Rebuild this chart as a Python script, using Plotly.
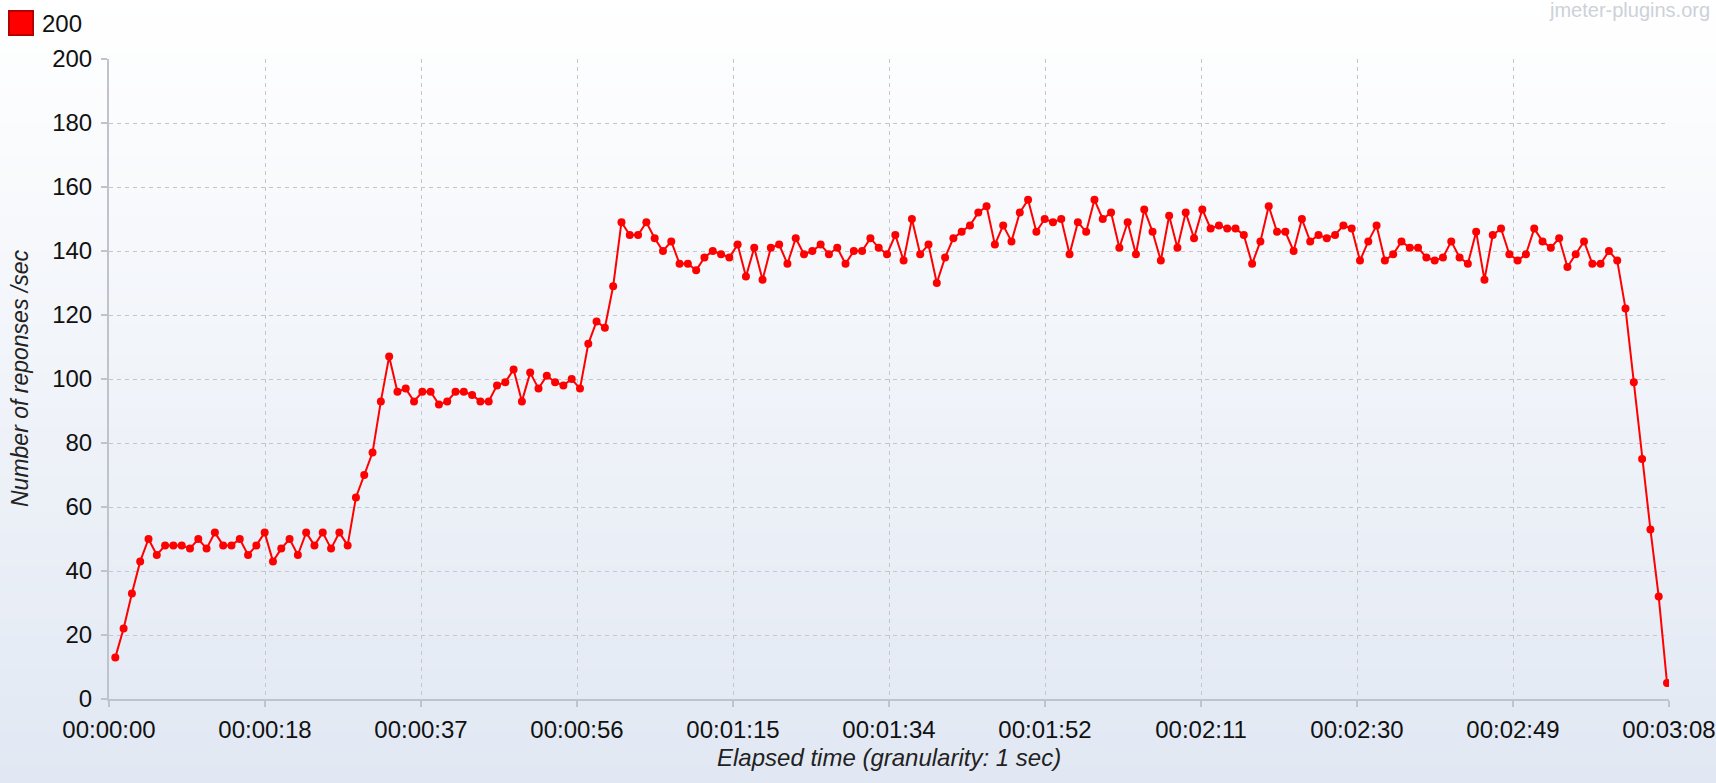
import plotly.graph_objects as go

# ---------------- data ----------------
SERIES_NAME = "200"
START_OFFSET_SEC = 0.76  # first sample offset within the elapsed-time axis (seconds)
RESPONSES_PER_SEC = [
    13, 22, 33, 43, 50, 45, 48, 48, 48, 47,
    50, 47, 52, 48, 48, 50, 45, 48, 52, 43,
    47, 50, 45, 52, 48, 52, 47, 52, 48, 63,
    70, 77, 93, 107, 96, 97, 93, 96, 96, 92,
    93, 96, 96, 95, 93, 93, 98, 99, 103, 93,
    102, 97, 101, 99, 98, 100, 97, 111, 118, 116,
    129, 149, 145, 145, 149, 144, 140, 143, 136, 136,
    134, 138, 140, 139, 138, 142, 132, 141, 131, 141,
    142, 136, 144, 139, 140, 142, 139, 141, 136, 140,
    140, 144, 141, 139, 145, 137, 150, 139, 142, 130,
    138, 144, 146, 148, 152, 154, 142, 148, 143, 152,
    156, 146, 150, 149, 150, 139, 149, 146, 156, 150,
    152, 141, 149, 139, 153, 146, 137, 151, 141, 152,
    144, 153, 147, 148, 147, 147, 145, 136, 143, 154,
    146, 146, 140, 150, 143, 145, 144, 145, 148, 147,
    137, 143, 148, 137, 139, 143, 141, 141, 138, 137,
    138, 143, 138, 136, 146, 131, 145, 147, 139, 137,
    139, 147, 143, 141, 144, 135, 139, 143, 136, 136,
    140, 137, 122, 99, 75, 53, 32, 5,
]
ELAPSED_SEC = [i + START_OFFSET_SEC for i in range(len(RESPONSES_PER_SEC))]

X_MAX_SEC = 188
X_TICK_LABELS = ["00:00:00", "00:00:18", "00:00:37", "00:00:56", "00:01:15",
                 "00:01:34", "00:01:52", "00:02:11", "00:02:30", "00:02:49", "00:03:08"]
Y_TICKS = [0, 20, 40, 60, 80, 100, 120, 140, 160, 180, 200]
X_TITLE = "Elapsed time (granularity: 1 sec)"
Y_TITLE = "Number of reponses /sec"
WATERMARK = "jmeter-plugins.org"

# ---------------- layout geometry ----------------
W, H = 1716, 783
ML, MR, MT, MB = 109, 47, 59, 84
PW, PH = W - ML - MR, H - MT - MB
FONT = "Liberation Sans, Arial, sans-serif"
GRID = "#c3c6cc"
AXIS = "#bfc4cc"
TICK_SIZE = 24

x_tickvals = [X_MAX_SEC * i / (len(X_TICK_LABELS) - 1) for i in range(len(X_TICK_LABELS))]


def px_to_paper_x(px):
    return (px - ML) / PW


def px_to_paper_y(py):
    return (H - MB - py) / PH


fig = go.Figure()
fig.add_trace(go.Scatter(
    x=ELAPSED_SEC, y=RESPONSES_PER_SEC, name=SERIES_NAME,
    mode="lines+markers",
    line=dict(color="#ff0000", width=2),
    marker=dict(color="#ff0000", size=8, line=dict(width=0)),
    showlegend=False,
))

# background vertical gradient (white -> light blue-grey)
shapes = []
top_c = (255, 255, 255)
bot_c = (225, 232, 243)
N = 90
for i in range(N):
    f = (i + 0.5) / N
    c = tuple(round(top_c[k] + (bot_c[k] - top_c[k]) * f) for k in range(3))
    y0 = H * i / N
    y1 = H * (i + 1) / N + 1
    shapes.append(dict(
        type="rect", xref="paper", yref="paper", layer="below",
        x0=px_to_paper_x(-2), x1=px_to_paper_x(W + 2),
        y0=px_to_paper_y(y1), y1=px_to_paper_y(y0),
        fillcolor="rgb(%d,%d,%d)" % c, line=dict(width=0),
    ))

# legend swatch
shapes.append(dict(
    type="rect", xref="paper", yref="paper", layer="above",
    x0=px_to_paper_x(9), x1=px_to_paper_x(33),
    y0=px_to_paper_y(35), y1=px_to_paper_y(11),
    fillcolor="#ff0000", line=dict(color="#b40000", width=2),
))

annotations = [
    dict(text=SERIES_NAME, xref="paper", yref="paper",
         x=px_to_paper_x(40), y=px_to_paper_y(23), xanchor="left", yanchor="middle",
         showarrow=False, font=dict(family=FONT, size=TICK_SIZE, color="#111111")),
    dict(text=WATERMARK, xref="paper", yref="paper",
         x=px_to_paper_x(1712), y=px_to_paper_y(10), xanchor="right", yanchor="middle",
         showarrow=False, font=dict(family=FONT, size=20, color="#cdd1d8")),
    dict(text=X_TITLE, xref="paper", yref="paper",
         x=0.5, y=px_to_paper_y(757), xanchor="center", yanchor="middle",
         showarrow=False, font=dict(family=FONT, size=24, color="#222222", style="italic")),
    dict(text=Y_TITLE, xref="paper", yref="paper", textangle=-90,
         x=px_to_paper_x(20), y=0.5, xanchor="center", yanchor="middle",
         showarrow=False, font=dict(family=FONT, size=23, color="#222222", style="italic")),
]

fig.update_layout(
    width=W, height=H,
    margin=dict(l=ML, r=MR, t=MT, b=MB, autoexpand=False),
    paper_bgcolor="rgb(240,244,249)",
    plot_bgcolor="rgba(0,0,0,0)",
    shapes=shapes, annotations=annotations,
    showlegend=False,
    font=dict(family=FONT, size=TICK_SIZE, color="#111111"),
)
fig.update_xaxes(
    range=[0, X_MAX_SEC], tickmode="array", tickvals=x_tickvals, ticktext=X_TICK_LABELS,
    showgrid=True, gridcolor=GRID, gridwidth=1.3, griddash="4px,4px",
    showline=True, linecolor=AXIS, linewidth=2, zeroline=False,
    ticks="outside", ticklen=6, tickwidth=2, tickcolor=AXIS,
    ticklabelstandoff=2, automargin=False,
    tickfont=dict(family=FONT, size=TICK_SIZE, color="#111111"),
)
fig.update_yaxes(
    range=[0, 200], tickmode="array", tickvals=Y_TICKS,
    showgrid=True, gridcolor=GRID, gridwidth=1.3, griddash="4px,4px",
    showline=True, linecolor=AXIS, linewidth=2, zeroline=False,
    ticks="outside", ticklen=6, tickwidth=2, tickcolor=AXIS,
    ticklabelstandoff=4, automargin=False,
    tickfont=dict(family=FONT, size=TICK_SIZE, color="#111111"),
)

fig.write_html(
    "out.html",
    config={"displayModeBar": False},
    post_script="document.documentElement.style.margin='0';document.body.style.margin='0';"
                "document.body.style.padding='0';document.body.style.overflow='hidden';",
)
